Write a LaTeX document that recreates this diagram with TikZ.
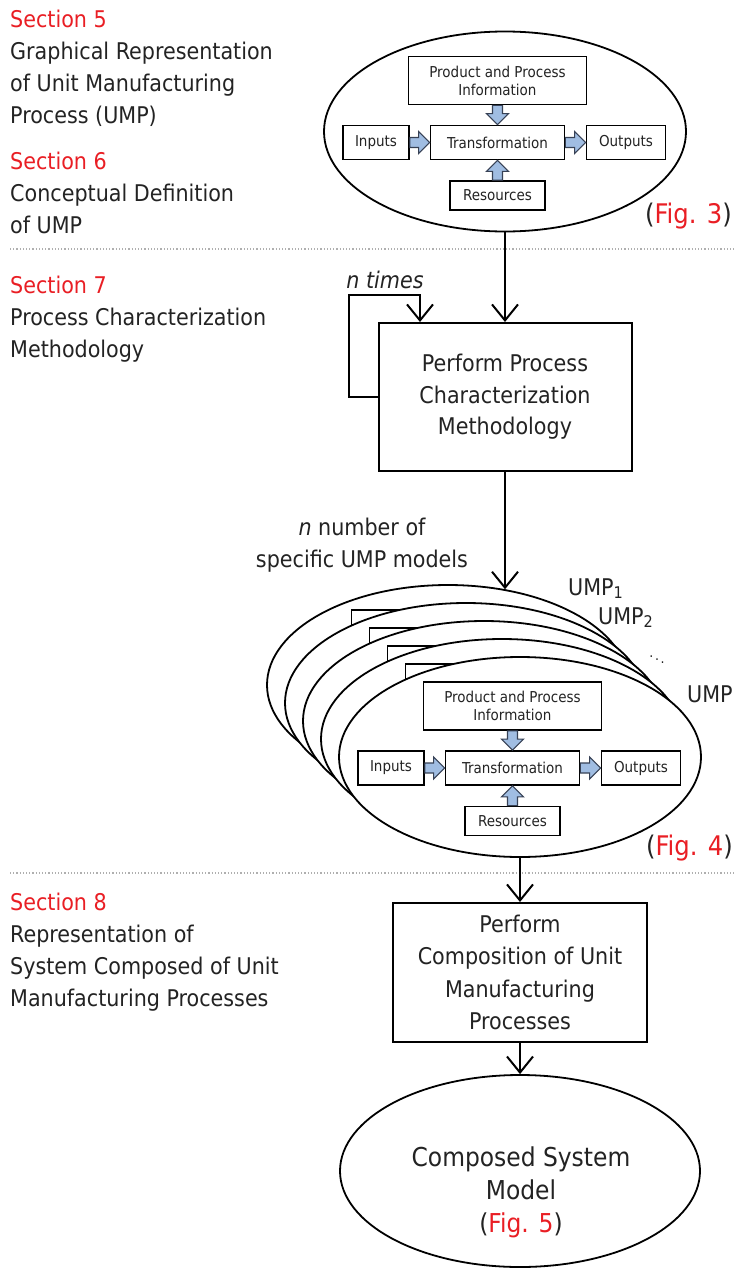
\documentclass[tikz,border=0pt]{standalone}
\usepackage{fontspec}
\setmainfont{DejaVu Sans Condensed}
\usetikzlibrary{arrows.meta,calc,shapes.geometric}
\definecolor{secred}{RGB}{233,30,36}
\definecolor{arrblue}{RGB}{160,189,226}
\definecolor{arredge}{RGB}{55,65,85}
\definecolor{txt}{RGB}{35,35,35}
\definecolor{sepgray}{RGB}{175,175,175}
\newcommand\blockarrow[2]{%
  \coordinate (-bc) at ($(#2)!11pt!(#1)$);
  \filldraw[barrow] ($(#1)!5pt!90:(#2)$) -- ($(-bc)!5pt!90:(#2)$) -- ($(-bc)!11pt!90:(#2)$) -- (#2)
     -- ($(-bc)!11pt!-90:(#2)$) -- ($(-bc)!5pt!-90:(#2)$) -- ($(#1)!5pt!-90:(#2)$) -- cycle;}
\tikzset{
  barrow/.style={fill=arrblue, draw=arredge, line width=1.1pt, line join=miter},
  sbox/.style={draw=black, line width=1.7pt, fill=white, inner sep=0pt, align=center,
    font=\fontsize{15}{18}\selectfont, text=txt},
  umpell/.style={ellipse, draw=black, line width=1.8pt, fill=white, inner sep=0pt,
    minimum width=362pt, minimum height=200pt},
  bigbox/.style={draw=black, line width=2pt, fill=white, inner sep=0pt, align=center, text=txt},
  lefttext/.style={anchor=north west, align=left, inner sep=0pt, text=txt,
    font=\fontsize{23}{32}\selectfont},
  txtnode/.style={inner sep=0pt, text=txt, font=\fontsize{23}{32}\selectfont},
  figlab/.style={anchor=base east, inner sep=0pt, text=txt, font=\fontsize{27}{32}\selectfont},
  flow/.style={draw=black, line width=2pt, -{Straight Barb[length=16pt,width=26pt]}},
  sepline/.style={draw=sepgray, line width=1.2pt, dotted},
  ump/.pic={
    \node[umpell] (-ell) at (0,0) {};
    \node[sbox, minimum width=178pt, minimum height=48pt] (-ppi) at (-7.5,-51) {Product and Process\\Information};
    \node[sbox, minimum width=134pt, minimum height=34pt] (-tr) at (-7.5,11) {Transformation};
    \node[sbox, minimum width=66pt, minimum height=34pt] (-in) at (-129,11) {Inputs};
    \node[sbox, minimum width=79pt, minimum height=34pt] (-out) at (121,11) {Outputs};
    \node[sbox, minimum width=95pt, minimum height=29pt] (-res) at (-7.5,64) {Resources};
    \blockarrow{-in.east}{-tr.west}
    \blockarrow{-tr.east}{-out.west}
    \blockarrow{-ppi.south}{-tr.north}
    \blockarrow{-res.north}{-tr.south}
  },
  umpback/.pic={
    \node[umpell] (-ell) at (0,0) {};
    \node[sbox, minimum width=178pt, minimum height=48pt] (-ppi) at (-7.5,-51) {};
  }
}
\begin{document}
\begin{tikzpicture}[x=1pt,y=-1pt]
\useasboundingbox (0,0) rectangle (735,1269);

% left column
\node[lefttext] (sec5) at (10,9.5) {\textcolor{secred}{Section 5}\\Graphical Representation\\of Unit Manufacturing\\Process (UMP)};
\node[lefttext] (sec6) at (10,151.5) {\textcolor{secred}{Section 6}\\Conceptual Definition\\of UMP};
\node[lefttext] (sec7) at (10,275.5) {\textcolor{secred}{Section 7}\\Process Characterization\\Methodology};
\node[lefttext] (sec8) at (10,893) {\textcolor{secred}{Section 8}\\Representation of\\System Composed of Unit\\Manufacturing Processes};

\draw[sepline] (10,249) -- (735,249);
\draw[sepline] (10,873) -- (735,873);

% Fig. 3
\pic (f3) at (505,131.5) {ump};
\node[figlab] (fig3) at (732,223) {(\textcolor{secred}{Fig. 3})};

% methodology
\node[bigbox, minimum width=253pt, minimum height=148pt, font=\fontsize{23}{31.5}\selectfont] (meth) at (505,397) {Perform Process\\Characterization\\Methodology};
\draw[flow] (f3-ell.south) -- (f3-ell.south |- meth.north);
\coordinate (loopA) at (349,295);
\coordinate (loopB) at (420,295);
\draw[flow] (meth.west) -| (loopA) -- (loopB) -- (loopB |- meth.north);
\node[txtnode, anchor=base] (ntimes) at (385,288) {\textit{n times}};

% stack of UMP models
\foreach \k in {4,3,2,1} {
  \pic (u\k) at ({520-18*\k},{757-18*\k}) {umpback};
}
\pic (u0) at (520,757) {ump};
\draw[flow] (meth.south) -- (meth.south |- u4-ell.59);
\node[txtnode, align=center, anchor=north] (nlab) at (362,517.5) {\textit{n} number of\\specific UMP models};
\node[txtnode, anchor=base west] (ump1) at (568,595) {UMP\textsubscript{1}};
\node[txtnode, anchor=base west] (ump2) at (598,624) {UMP\textsubscript{2}};
\node[txtnode] (umpd) at (657,657) {\fontsize{14}{14}\selectfont$\ddots$};
\node[txtnode, anchor=base west] (umpn) at (687,702) {UMP};
\node[figlab] (fig4) at (733,855) {(\textcolor{secred}{Fig. 4})};

% composition
\node[bigbox, minimum width=254pt, minimum height=139pt, font=\fontsize{23}{32.5}\selectfont] (comp) at (520,972.5) {Perform\\Composition of Unit\\Manufacturing\\Processes};
\draw[flow] (u0-ell.south) -- (comp.north);

% Fig. 5
\node[ellipse, draw=black, line width=1.8pt, minimum width=360pt, minimum height=192pt, inner sep=0pt] (f5) at (520,1171) {};
\draw[flow] (comp.south) -- (comp.south |- f5.north);
\node[txtnode, align=center, anchor=north, font=\fontsize{26}{33}\selectfont] (f5t) at (521,1147) {Composed System\\Model\\(\textcolor{secred}{Fig. 5})};
\end{tikzpicture}
\end{document}
